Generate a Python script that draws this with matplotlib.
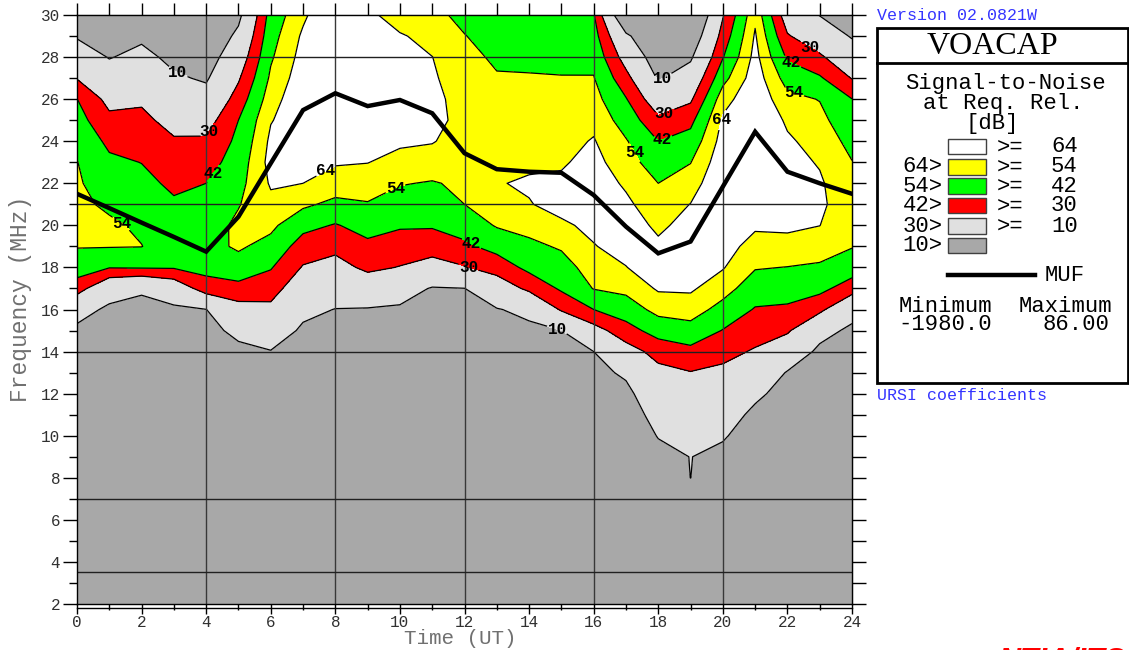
import numpy as np
import matplotlib
matplotlib.use("Agg")
import matplotlib.pyplot as plt
from matplotlib.patches import Rectangle
from matplotlib.lines import Line2D

## VOACAP area plot: S/N at required reliability, hour 0..24 UT
hours = np.arange(0, 25)
freqs = np.arange(2, 31)          # program works on a 1 MHz grid
nan = np.nan

# frequency (MHz) where the S/N climbs through each level, per hour
lo10 = [15.74, 16.74, 16.96, 16.77, 16.06, 14.74, 14.13, 15.58, 16.09, 16.26, 16.53, 17.30, 17.06,
        16.22, 15.82, 15.03, 14.00, 12.81, 9.83, 7.90, 9.67, 11.62, 13.20, 14.74, 15.74]
lo30 = [16.69, 17.51, 17.49, 17.25, 16.69, 16.42, 16.33, 18.12, 18.59, 17.60, 18.04, 18.28, 18.04,
        17.56, 16.85, 15.90, 15.35, 14.47, 13.68, 13.13, 13.52, 14.16, 14.79, 15.82, 16.69]
lo42 = [17.33, 17.96, 17.91, 17.72, 17.25, 17.28, 17.88, 19.70, 20.10, 19.38, 19.78, 19.78, 19.23,
        18.59, 17.50, 16.69, 16.00, 15.35, 14.55, 14.32, 15.06, 16.14, 16.22, 16.53, 17.33]
lo54 = [18.67, 18.83, 18.96, nan, nan, 18.43, 19.50, 20.73, 21.29, 21.13, 21.90, 22.16, 21.00,
        19.78, 19.40, 18.83, 16.90, 16.61, 15.63, 15.38, 16.45, 17.88, 18.04, 18.20, 18.67]
lo64 = [nan, nan, nan, nan, nan, nan, 21.52, 22.00, 22.45, 22.55, 23.35, 23.58, nan,
        nan, 21.08, 20.20, 19.10, 18.04, 16.72, 16.62, 17.72, 19.46, 19.34, 19.94, nan]
# column maximum (dB) and where it sits
peak_snr = [57, 57, 55.5, 49, 52, 57, 68, 72, nan, nan, 70, 67, 62,
            63.5, 67, 68, 70, 70, 70, 72, 74, 75, 70, 67, 57]
peak_f = [20.5, 19.7, 19.2, 19.5, 19.3, 19.6, 23.2, 26.0, nan, nan, 26.5, 25.8, 25.0,
          22.0, 21.64, 21.3, 21.7, 19.8, 18.1, 18.8, 21.7, 24.5, 22.0, 21.3, 20.5]
# frequency where the S/N falls back through each level
hi64 = [nan, nan, nan, nan, nan, nan, 24.85, 29.80, nan, nan, 29.60, 28.10, nan,
        nan, 22.20, 22.50, 24.30, 21.62, 19.46, 21.07, 25.60, 29.52, 24.69, 22.71, nan]
hi54 = [23.27, 20.50, 19.42, nan, nan, 20.80, 27.50, nan, nan, nan, nan, nan, 29.13,
        27.35, 27.27, 27.20, 27.15, 24.22, 22.00, 22.95, 26.60, nan, 26.51, 25.96, 23.27]
hi42 = [26.04, 23.58, 22.95, 21.45, 22.00, 25.00, nan, nan, nan, nan, nan, nan, nan,
        nan, nan, nan, nan, 26.12, 24.00, 24.70, 27.90, nan, 27.81, 27.15, 26.04]
hi30 = [26.94, 25.52, 25.72, 24.33, 24.35, 26.80, nan, nan, nan, nan, nan, nan, nan,
        nan, nan, nan, nan, 27.47, 25.30, 25.80, 29.76, nan, 29.13, 28.18, 26.94]
hi10 = [28.84, 27.89, 28.62, 27.31, 26.70, 29.50, nan, nan, nan, nan, nan, nan, nan,
        nan, nan, nan, nan, 29.29, 26.80, 27.78, nan, nan, nan, nan, 28.84]
# S/N at the top of the band (30 MHz)
top_snr = [0, -5, 0, -5, -10, 6, 47, 62, 75, 67, 58, 56, 52,
           49, 48, 45, 43, -9, -15, -13, 29, 62, 22, 9.5, 0]
bottom_snr = -40

# maximum usable frequency
muf = [21.5, 20.82, 20.13, 19.45, 18.75, 20.41, 22.95, 25.48, 26.28, 25.67, 25.96, 25.33, 23.43,
       22.67, 22.55, 22.5, 21.44, 19.94, 18.67, 19.23, 21.84, 24.45, 22.55, 22.0, 21.5]

levels = [10, 30, 42, 54, 64]
colors = ['#a8a8a8', '#e0e0e0', '#ff0000', '#00ff00', '#ffff00', '#ffffff']
legend_left = ['', '64>', '54>', '42>', '30>', '10>']
legend_right = ['64', '54', '42', '30', '10', '']

# contour label positions (hour, MHz) for each level
label_pos = {10: [(3.1, 27.2), (14.9, 15.2), (18.1, 27.05)],
             30: [(3.93, 24.6), (12.1, 17.9), (18.15, 25.5), (22.7, 28.5)],
             42: [(4.1, 22.6), (12.17, 19.0), (18.1, 24.15), (22.14, 27.77)],
             54: [(1.42, 20.2), (9.85, 21.8), (17.2, 23.4), (22.23, 26.5)],
             64: [(7.77, 22.4), (19.8, 25.1)]}


def column(i):
    fk, vk = [2.0], [bottom_snr]
    for f, v in zip([lo10[i], lo30[i], lo42[i], lo54[i], lo64[i]], levels):
        if not np.isnan(f):
            fk.append(f); vk.append(v)
    if not np.isnan(peak_snr[i]):
        fk.append(peak_f[i]); vk.append(peak_snr[i])
    for f, v in zip([hi64[i], hi54[i], hi42[i], hi30[i], hi10[i]], levels[::-1]):
        if not np.isnan(f):
            fk.append(f); vk.append(v)
    fk.append(30.0); vk.append(top_snr[i])
    return np.interp(freqs, fk, vk)


snr = np.column_stack([column(i) for i in range(len(hours))])
# the little tail at 19 UT reaching down to 8 MHz
snr[freqs == 8, 19] = 10.1
snr[freqs == 9, 19] = 10.3

mono = 'Liberation Mono'
plt.rcParams['font.family'] = mono

fig = plt.figure(figsize=(11.29, 6.5), dpi=100)
ax = fig.add_axes([77 / 1129, 46 / 650, 775 / 1129, 589 / 650])

ax.contourf(hours, freqs, snr, levels=[-1e9] + levels + [1e9], colors=colors, zorder=1)
# one line set per level so each can carry its own labels
for lev in levels:
    cs = ax.contour(hours, freqs, snr, levels=[lev], colors='black', linewidths=0.9, zorder=2)
    texts = cs.clabel(manual=label_pos[lev], inline=True, inline_spacing=1,
                      fmt='%d', fontsize=11.5, colors='black')
    for t in texts:
        t.set_rotation(0)
        t.set_fontweight('bold')
        t.set_zorder(4)

for h in [4, 8, 12, 16, 20]:
    ax.axvline(h, color='#383838', lw=1.0, zorder=2.5)
for f in [3.5, 7, 14, 21, 28]:
    ax.axhline(f, color='#202020', lw=1.0, zorder=2.5)

ax.plot(hours, muf, color='black', lw=3.2, zorder=3, solid_joinstyle='miter')

ax.set_xlim(0, 24)
ax.set_ylim(2, 30)
ax.set_xticks(range(0, 25, 2))
ax.set_xticks(range(0, 25), minor=True)
ax.set_yticks(range(2, 31, 2))
ax.set_yticks(range(2, 31), minor=True)
ax.tick_params(axis='y', which='major', direction='out', length=10, width=1, pad=2,
               labelsize=11.5, labelcolor='#303030')
ax.tick_params(axis='y', which='minor', direction='out', length=6, width=1)
ax.tick_params(axis='x', which='major', direction='out', length=7, width=1, pad=1,
               labelsize=11.5, labelcolor='#303030')
ax.tick_params(axis='x', which='minor', direction='out', length=4, width=1)
for sp in ax.spines.values():
    sp.set_linewidth(1.0)
# second base line just below the time axis
ax.plot([0, 1], [-0.007, -0.007], transform=ax.transAxes, color='black', lw=1, clip_on=False)

top = ax.secondary_xaxis('top')
top.set_xticks(range(0, 25))
top.tick_params(direction='out', length=9, width=1, labeltop=False)
right = ax.secondary_yaxis('right')
right.set_yticks(range(2, 31))
right.tick_params(direction='out', length=10, width=1, labelright=False)

fig.text(21 / 1129, 1 - 299 / 650, 'Frequency (MHz)', rotation=90, ha='center', va='center',
         fontsize=16.5, color='#707070')
fig.text(460 / 1129, 1 - 638 / 650, 'Time (UT)', ha='center', va='center',
         fontsize=15, color='#707070')

# right hand panel
blue = '#3434ff'
fs = 16
fig.text(877 / 1129, 1 - 15 / 650, 'Version 02.0821W', ha='left', va='center',
         fontsize=12, color=blue)
fig.text(877 / 1129, 1 - 395 / 650, 'URSI coefficients', ha='left', va='center',
         fontsize=12, color=blue)
fig.patches.append(Rectangle((877 / 1129, 1 - 383 / 650), 251 / 1129, 355 / 650,
                             transform=fig.transFigure, fill=False, lw=2, ec='black'))
fig.lines.append(Line2D([877 / 1129, 1128 / 1129], [1 - 63 / 650] * 2, transform=fig.transFigure,
                        color='black', lw=2))
fig.text(992 / 1129, 1 - 46 / 650, 'VOACAP', ha='center', va='center',
         fontsize=23, family='Liberation Serif', color='black')
for line, xc, yc in [('Signal-to-Noise', 1005, 83), ('at Req. Rel.', 1003, 104), ('[dB]', 992, 123)]:
    fig.text(xc / 1129, 1 - yc / 650, line, ha='center', va='center', fontsize=fs, color='black')

rows = [147, 167, 186, 206, 226, 246]
for k, yrow in enumerate(rows):
    yy = 1 - yrow / 650
    c = colors[::-1][k]
    fig.patches.append(Rectangle((948 / 1129, yy - 7.5 / 650), 38 / 1129, 15 / 650,
                                 transform=fig.transFigure, fc=c, ec='#404040', lw=1))
    fig.text(943 / 1129, yy, legend_left[k], ha='right', va='center', fontsize=fs)
    if legend_right[k]:
        fig.text(997 / 1129, yy, '>=', ha='left', va='center', fontsize=fs)
        fig.text(1051 / 1129, yy, legend_right[k], ha='left', va='center', fontsize=fs)

fig.lines.append(Line2D([948 / 1129, 1035 / 1129], [1 - 275 / 650] * 2,
                        transform=fig.transFigure, color='black', lw=3.2))
fig.text(1045 / 1129, 1 - 275 / 650, 'MUF', ha='left', va='center', fontsize=fs)
fig.text(945 / 1129, 1 - 306 / 650, 'Minimum', ha='center', va='center', fontsize=fs)
fig.text(1065 / 1129, 1 - 306 / 650, 'Maximum', ha='center', va='center', fontsize=fs)
fig.text(945 / 1129, 1 - 325 / 650, '-1980.0', ha='center', va='center', fontsize=fs)
fig.text(1109 / 1129, 1 - 325 / 650, '86.00', ha='right', va='center', fontsize=fs)
fig.text(998 / 1129, 1 - 646 / 650, 'NTIA/ITS', ha='left', va='top', fontsize=22,
         family='Liberation Sans', fontweight='bold', fontstyle='italic', color='red')

fig.savefig('out.png', dpi=100)
